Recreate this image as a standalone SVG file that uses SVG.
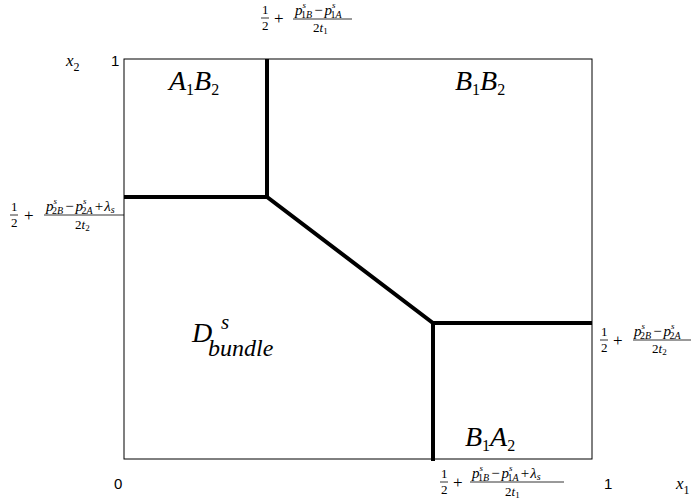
<svg xmlns="http://www.w3.org/2000/svg" width="691" height="504" viewBox="0 0 691 504">
<style>
.m{font-size:13px;fill:#000}
.n{font-size:15px;font-style:italic;fill:#000}
.pl{font-size:17px;fill:#000}
.ax{font-size:17px;font-style:italic;fill:#000}
.big{font-size:28px;font-style:italic;fill:#000}
.s{font-size:15px;fill:#000}
.thick{stroke:#000;stroke-width:4;fill:none}
.bar{stroke:#000;stroke-width:0.8}
</style>
<rect width="691" height="504" fill="#fff"/>
<g id="frame"><rect x="124" y="59" width="468" height="400" fill="none" stroke="#000" stroke-width="1"/></g>
<g id="connectors">
<polyline class="thick" points="267,59 267,197"/>
<polyline class="thick" points="124,197 267,197 433,323 592,323"/>
<polyline class="thick" points="433,323 433,461"/>
</g>
<g font-family="Liberation Serif, DejaVu Serif, serif">
<g id="region-A1B2"><text class="big" x="169" y="90">A<tspan font-size="16" font-style="normal" dy="5">1</tspan><tspan dy="-5">B</tspan><tspan font-size="16" font-style="normal" dy="5">2</tspan></text></g>
<g id="region-B1B2"><text class="big" x="455" y="90">B<tspan font-size="16" font-style="normal" dy="5">1</tspan><tspan dy="-5">B</tspan><tspan font-size="16" font-style="normal" dy="5">2</tspan></text></g>
<g id="region-Dbundle"><text class="big" x="192" y="342">D</text><text class="big" x="221" y="329" style="font-size:21px">s</text><text class="big" x="208" y="356" style="font-size:24px">bundle</text></g>
<g id="region-B1A2"><text class="big" x="465" y="446">B<tspan font-size="16" font-style="normal" dy="5">1</tspan><tspan dy="-5">A</tspan><tspan font-size="16" font-style="normal" dy="5">2</tspan></text></g>
<g id="axis-labels-serif">
<text class="ax" x="66" y="66">x<tspan font-size="12" font-style="normal" dy="5">2</tspan></text>
<text class="ax" x="676" y="489">x<tspan font-size="12" font-style="normal" dy="5">1</tspan></text>
</g>
<g id="label-top">
<text class="m" x="262" y="14">1</text><line class="bar" x1="261" y1="18" x2="269" y2="18"/><text class="m" x="262" y="30">2</text>
<text class="pl" x="274" y="24">+</text>
<text class="n" x="295" y="15">p<tspan font-size="9" dy="-7">s</tspan><tspan font-size="10" font-style="normal" dx="-5" dy="10">1</tspan><tspan font-size="10">B</tspan><tspan font-style="normal" dx="2" dy="-3">−</tspan><tspan dx="2">p</tspan><tspan font-size="9" dy="-7">s</tspan><tspan font-size="10" font-style="normal" dx="-5" dy="10">1</tspan><tspan font-size="10">A</tspan></text>
<line class="bar" x1="293" y1="19" x2="352" y2="19"/>
<text class="m" x="313" y="32">2<tspan font-style="italic">t</tspan><tspan font-size="9" dy="2">1</tspan></text>
</g>
<g id="label-left">
<text class="m" x="11" y="211">1</text><line class="bar" x1="10" y1="215" x2="18" y2="215"/><text class="m" x="11" y="227">2</text>
<text class="pl" x="24" y="221">+</text>
<text class="n" x="46" y="211">p<tspan font-size="9" dy="-7">s</tspan><tspan font-size="10" font-style="normal" dx="-5" dy="10">2</tspan><tspan font-size="10">B</tspan><tspan font-style="normal" dx="2" dy="-3">−</tspan><tspan dx="2">p</tspan><tspan font-size="9" dy="-7">s</tspan><tspan font-size="10" font-style="normal" dx="-5" dy="10">2</tspan><tspan font-size="10">A</tspan><tspan font-style="normal" dx="2" dy="-3">+</tspan><tspan dx="1">λ</tspan><tspan font-size="10" dy="2">s</tspan></text>
<line class="bar" x1="44" y1="215" x2="124" y2="215"/>
<text class="m" x="75" y="229">2<tspan font-style="italic">t</tspan><tspan font-size="9" dy="2">2</tspan></text>
</g>
<g id="label-right">
<text class="m" x="601" y="336">1</text><line class="bar" x1="600" y1="340" x2="608" y2="340"/><text class="m" x="601" y="352">2</text>
<text class="pl" x="613" y="346">+</text>
<text class="n" x="634" y="336">p<tspan font-size="9" dy="-7">s</tspan><tspan font-size="10" font-style="normal" dx="-5" dy="10">2</tspan><tspan font-size="10">B</tspan><tspan font-style="normal" dx="2" dy="-3">−</tspan><tspan dx="2">p</tspan><tspan font-size="9" dy="-7">s</tspan><tspan font-size="10" font-style="normal" dx="-5" dy="10">2</tspan><tspan font-size="10">A</tspan></text>
<line class="bar" x1="633" y1="340" x2="691" y2="340"/>
<text class="m" x="652" y="353">2<tspan font-style="italic">t</tspan><tspan font-size="9" dy="2">2</tspan></text>
</g>
<g id="label-bottom">
<text class="m" x="441" y="478">1</text><line class="bar" x1="440" y1="482" x2="448" y2="482"/><text class="m" x="441" y="494">2</text>
<text class="pl" x="453" y="488">+</text>
<text class="n" x="472" y="478">p<tspan font-size="9" dy="-7">s</tspan><tspan font-size="10" font-style="normal" dx="-5" dy="10">1</tspan><tspan font-size="10">B</tspan><tspan font-style="normal" dx="2" dy="-3">−</tspan><tspan dx="2">p</tspan><tspan font-size="9" dy="-7">s</tspan><tspan font-size="10" font-style="normal" dx="-5" dy="10">1</tspan><tspan font-size="10">A</tspan><tspan font-style="normal" dx="2" dy="-3">+</tspan><tspan dx="1">λ</tspan><tspan font-size="10" dy="2">s</tspan></text>
<line class="bar" x1="470" y1="482" x2="564" y2="482"/>
<text class="m" x="505" y="496">2<tspan font-style="italic">t</tspan><tspan font-size="9" dy="2">1</tspan></text>
</g>
</g>
<g id="axis-numbers" font-family="Liberation Sans, Open Sans, sans-serif">
<text class="s" x="111" y="66">1</text>
<text class="s" x="114" y="489">0</text>
<text class="s" x="604" y="489">1</text>
</g>
</svg>
